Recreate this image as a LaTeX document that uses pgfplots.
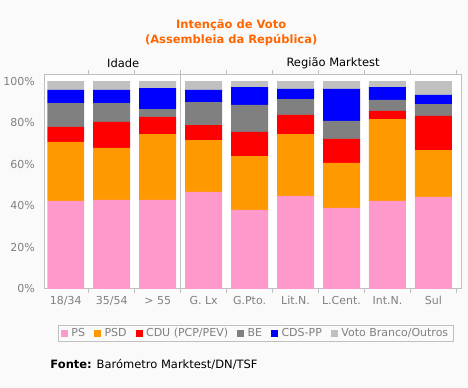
\documentclass[border=0pt]{standalone}
\usepackage{pgfplots}
\pgfplotsset{compat=1.18}
\usepackage{pgfplotstable}
\usepackage{fontspec}
\setmainfont{DejaVu Sans}
\definecolor{bgc}{HTML}{FAFAFA}
\definecolor{cPS}{HTML}{FF99CC}
\definecolor{cPSD}{HTML}{FF9900}
\definecolor{cCDU}{HTML}{FF0000}
\definecolor{cBE}{HTML}{808080}
\definecolor{cCDS}{HTML}{0000FF}
\definecolor{cOUT}{HTML}{C0C0C0}
\definecolor{ttl}{HTML}{FF6600}
\definecolor{frm}{HTML}{C0C0C0}
\definecolor{txt}{HTML}{808080}
\pgfplotstableread{
x PS PSD CDU BE CDS OUT
0 42.3 28.4 7.2 11.5 6.3 4.3
1 42.8 25.0 12.5 9.1 6.3 4.3
2 42.8 31.7 8.2 3.8 10.1 3.4
3 46.6 25.0 7.2 11.1 5.8 4.3
4 38.0 25.9 11.6 13.0 8.6 2.9
5 44.7 29.8 9.2 7.6 4.9 3.8
6 38.9 21.7 11.5 8.7 15.4 3.8
7 42.3 39.4 3.9 5.3 6.2 2.9
8 44.2 22.6 16.4 5.7 4.4 6.7
}\datatab
\pgfplotsset{sq/.style={draw=none, fill=#1,
  legend image code/.code={\fill[#1] (0pt,-3.5pt) rectangle (7pt,3.5pt);}}}
\begin{document}
\begin{tikzpicture}
\fill[bgc] (-44pt,-99pt) rectangle (424pt,289pt);
\begin{axis}[
  at={(0pt,0pt)}, anchor=south west,
  scale only axis, width=417pt, height=215pt,
  ybar stacked, bar width=37pt,
  xmin=-0.467, xmax=8.6, ymin=0, ymax=103.4,
  axis background/.style={fill=white},
  axis line style={frm, line width=0.8pt},
  xtick={0,...,8},
  xticklabels={18/34,35/54,> 55,G. Lx,G.Pto.,Lit.N.,L.Cent.,Int.N.,Sul},
  minor xtick={-0.5,0.5,...,8.5},
  major tick length=0pt, minor tick length=4pt,
  tick align=outside, tick style={frm, line width=0.8pt},
  ytick={0,20,40,60,80,100},
  yticklabel={\pgfmathprintnumber{\tick}\%},
  ticklabel style={font=\fontsize{11}{13}\selectfont, text=txt},
  /pgf/number format/assume math mode=true,
  xticklabel style={yshift=-4pt},
  yticklabel style={xshift=-6pt},
  legend columns=6,
  legend style={at={(0.507,-0.207)}, anchor=center, draw=frm, fill=bgc,
    font=\fontsize{11}{13}\selectfont, text=txt,
    /tikz/every odd column/.append style={column sep=1.5pt},
    /tikz/every even column/.append style={column sep=7pt},
    inner ysep=1pt, inner xsep=3pt},
  legend cell align=left,
  clip=false,
]
\addplot[sq=cPS] table[x=x,y=PS]{\datatab};
\addplot[sq=cPSD] table[x=x,y=PSD]{\datatab};
\addplot[sq=cCDU] table[x=x,y=CDU]{\datatab};
\addplot[sq=cBE] table[x=x,y=BE]{\datatab};
\addplot[sq=cCDS] table[x=x,y=CDS]{\datatab};
\addplot[sq=cOUT] table[x=x,y=OUT]{\datatab};
\legend{PS,PSD,CDU (PCP/PEV),BE,CDS-PP,Voto Branco/Outros}
\draw[frm, line width=0.8pt] (axis cs:2.5,0) -- (axis cs:2.5,103.4);
\end{axis}
\node[align=center, text=ttl, font=\fontsize{11.5}{15}\bfseries\selectfont] at (187pt,256.5pt) {Intenção de Voto\\(Assembleia da República)};
\node[font=\fontsize{11.5}{13}\selectfont] at (79pt,226pt) {Idade};
\node[font=\fontsize{11.5}{13}\selectfont] at (289pt,226pt) {Região Marktest};
\node[anchor=west, font=\fontsize{11.5}{13}\selectfont, inner sep=0pt] at (6pt,-76pt) {\textbf{Fonte:} Barómetro Marktest/DN/TSF};
\end{tikzpicture}
\end{document}
